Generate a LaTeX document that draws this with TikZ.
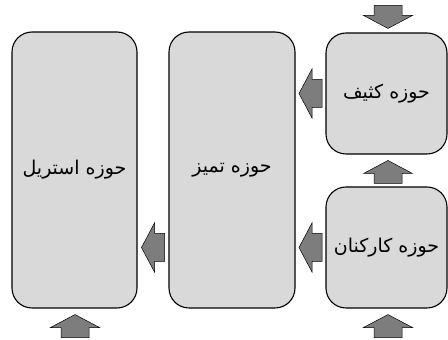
\documentclass[tikz,border=0pt]{standalone}
\usepackage{fontspec}
\newfontfamily\arabicfont[Script=Arabic]{DejaVu Sans}
\TeXXeTstate=1
\usetikzlibrary{calc}
\definecolor{zonegray}{RGB}{217,217,217}
\definecolor{flowgray}{RGB}{125,125,125}
\tikzset{
  zone/.style={draw=black, line width=1.1pt, fill=zonegray, rounded corners=20pt,
    inner sep=0pt, font=\arabicfont\fontsize{19}{23}\selectfont},
  flow/.style={draw=black, line width=0.5pt, fill=flowgray},
  blockarrow/.pic={
    \draw[flow] (-11.5,14) -- (-1.5,14) -- (-1.5,24.5) -- (11.5,0)
      -- (-1.5,-24.5) -- (-1.5,-14) -- (-11.5,-14) -- cycle;
  }
}
\begin{document}
\begin{tikzpicture}[x=1pt, y=1pt]
\useasboundingbox (0,0) rectangle (448,340);

% Zones
\node[zone, minimum width=125pt, minimum height=276pt] (sterile) at (74.5,170) {\beginR حوزه استریل\endR};
\node[zone, minimum width=126pt, minimum height=276pt] (clean) at (232,170) {\beginR حوزه تمیز\endR};
\node[zone, minimum width=121pt, minimum height=121pt] (dirty) at (386.5,246.5) {\beginR حوزه کثیف\endR};
\node[zone, minimum width=121pt, minimum height=121pt] (staff) at (386.5,92.5) {\beginR حوزه کارکنان\endR};

% Flows between zones
\coordinate (dirtyclean) at ($(clean.east |- dirty.west)!0.5!(dirty.west)$);
\coordinate (staffclean) at ($(clean.east |- staff.west)!0.5!(staff.west)$);
\coordinate (cleansterile) at ($(sterile.east |- staff.west)!0.5!(clean.west |- staff.west)$);
\coordinate (staffdirty) at ($(staff.north)!0.5!(dirty.south)+(1.5,-1.5)$);
\pic[rotate=180] at (dirtyclean) {blockarrow};
\pic[rotate=180] at (staffclean) {blockarrow};
\pic[rotate=180] at (cleansterile) {blockarrow};
\pic[rotate=90] at (staffdirty) {blockarrow};

% Entries
\coordinate (dirtyin) at ($(dirty.north)+(1.5,15.5)$);
\coordinate (sterilein) at ($(sterile.south)+(0.5,-17.5)$);
\coordinate (staffin) at ($(staff.south)+(1.5,-17.5)$);
\pic[rotate=270] at (dirtyin) {blockarrow};
\pic[rotate=90] at (sterilein) {blockarrow};
\pic[rotate=90] at (staffin) {blockarrow};
\end{tikzpicture}
\end{document}
